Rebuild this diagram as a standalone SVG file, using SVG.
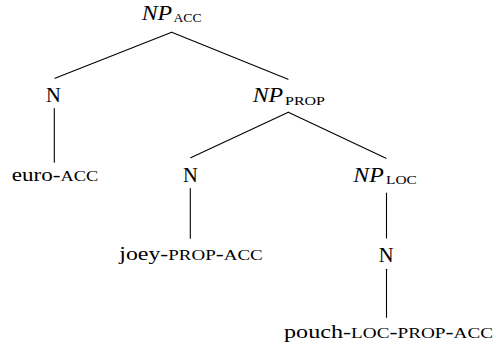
<svg xmlns="http://www.w3.org/2000/svg" width="496" height="347" viewBox="0 0 496 347">
  <style>
    text { font-family: "Liberation Serif", "Times New Roman", serif; fill: #000; }
    .cat { font-size: 21px; font-style: italic; }
    .n { font-size: 20.5px; text-anchor: middle; }
    .word { font-size: 19.5px; }
    .sub { font-size: 12.5px; font-style: normal; }
    .sc { font-size: 15.5px; }
    .edge { stroke: #000; stroke-width: 1.1; fill: none; stroke-linecap: round; }
  </style>
  <rect width="496" height="347" fill="#fff"/>

  <!-- tree edges -->
  <g id="connectors">
    <line class="edge" x1="171.7" y1="32.3" x2="55" y2="78.3"/>
    <line class="edge" x1="171.7" y1="32.3" x2="288" y2="79.3"/>
    <line class="edge" x1="54.3" y1="108.5" x2="54.3" y2="162.3"/>
    <line class="edge" x1="288.3" y1="112.3" x2="190.7" y2="157.7"/>
    <line class="edge" x1="288.3" y1="112.3" x2="386" y2="158.3"/>
    <line class="edge" x1="190.3" y1="188.5" x2="190.3" y2="238.3"/>
    <line class="edge" x1="386.5" y1="193" x2="386.5" y2="238"/>
    <line class="edge" x1="386.5" y1="269.3" x2="386.5" y2="317.3"/>
  </g>

  <!-- root NP -->
  <g id="np-acc">
    <text class="cat" x="141.7" y="19.5" textLength="30.5" lengthAdjust="spacingAndGlyphs">NP</text>
    <text class="sub" x="173.5" y="22" textLength="28" lengthAdjust="spacingAndGlyphs">ACC</text>
  </g>

  <g id="n-euro">
    <text class="n" x="53.5" y="102">N</text>
  </g>
  <g id="w-euro">
    <text class="word" x="11.7" y="181" textLength="86.6" lengthAdjust="spacingAndGlyphs">euro-<tspan class="sc">ACC</tspan></text>
  </g>

  <g id="np-prop">
    <text class="cat" x="252.7" y="102.3" textLength="30.5" lengthAdjust="spacingAndGlyphs">NP</text>
    <text class="sub" x="285" y="104.5" textLength="40" lengthAdjust="spacingAndGlyphs">PROP</text>
  </g>

  <g id="n-joey">
    <text class="n" x="190.3" y="181.7">N</text>
  </g>
  <g id="w-joey">
    <text class="word" x="119.3" y="259.5" textLength="143.4" lengthAdjust="spacingAndGlyphs">joey-<tspan class="sc">PROP</tspan>-<tspan class="sc">ACC</tspan></text>
  </g>

  <g id="np-loc">
    <text class="cat" x="353.3" y="182.3" textLength="30.5" lengthAdjust="spacingAndGlyphs">NP</text>
    <text class="sub" x="386" y="184.2" textLength="30.7" lengthAdjust="spacingAndGlyphs">LOC</text>
  </g>

  <g id="n-pouch">
    <text class="n" x="386.2" y="262">N</text>
  </g>
  <g id="w-pouch">
    <text class="word" x="284" y="338" textLength="209" lengthAdjust="spacingAndGlyphs">pouch-<tspan class="sc">LOC</tspan>-<tspan class="sc">PROP</tspan>-<tspan class="sc">ACC</tspan></text>
  </g>
</svg>
